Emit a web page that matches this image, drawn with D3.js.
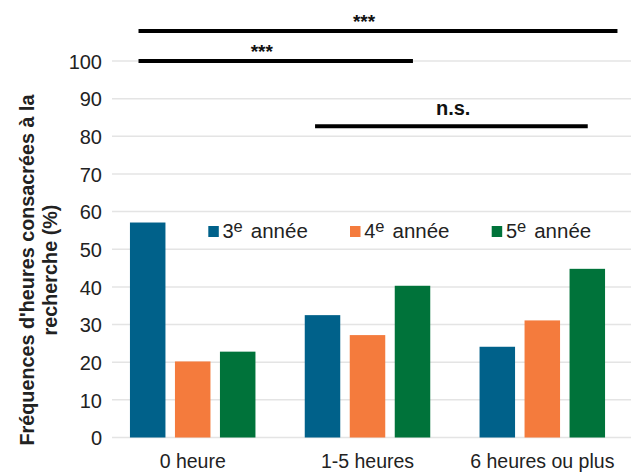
<!DOCTYPE html>
<html>
<head>
<meta charset="utf-8">
<script src="https://cdn.jsdelivr.net/npm/d3@7"></script>
<style>
  html, body { margin: 0; padding: 0; background: #fff; }
  svg { display: block; font-family: "Liberation Sans", Arial, Helvetica, sans-serif; }
</style>
</head>
<body>
<svg id="chart" width="636" height="472"></svg>
<script>
// ---- data ----
const categories = ["0 heure", "1-5 heures", "6 heures ou plus"];
const series = ["3e année", "4e année", "5e année"];
const seriesOrdinal = ["3", "4", "5"];
const values3e = [57.1, 32.5, 24.1];
const values4e = [20.2, 27.2, 31.1];
const values5e = [22.8, 40.3, 44.8];
const yTicks = [0, 10, 20, 30, 40, 50, 60, 70, 80, 90, 100];
const colors = ["#00618a", "#f47b3d", "#00733a"];
// significance brackets: from/to in group-index units, level in % units
const sigFrom = [-0.31, -0.31, 0.70];
const sigTo = [2.43, 1.26, 2.26];
const sigLevel = [108, 100, 82.7];
const sigLabel = ["***", "***", "n.s."];
const sigLabelPos = [0.98, 0.395, 1.49];
const yTitleLines = ["Fréquences d'heures consacrées à la", "recherche (%)"];

const svg = d3.select("#chart");

const y = d3.scaleLinear().domain([0, 100]).range([437.5, 61]);
const x = d3.scaleBand().domain(categories).range([105.3, 629.7]).paddingInner(0).paddingOuter(0);
const xInner = d3.scaleBand().domain(series).range([-62.75, 62.75]).paddingInner(0.211).paddingOuter(0);
const xIdx = d3.scaleLinear().domain([0, 2]).range([x(categories[0]) + x.bandwidth() / 2, x(categories[2]) + x.bandwidth() / 2]);

// gridlines
svg.append("g").selectAll("line").data(yTicks).join("line")
  .attr("x1", 112).attr("x2", 631)
  .attr("y1", d => y(d)).attr("y2", d => y(d))
  .attr("stroke", "#e4e4e4").attr("stroke-width", 1.5);

// y axis labels
const yAxis = d3.axisLeft(y).tickValues(yTicks).tickSize(0).tickPadding(0);
const gy = svg.append("g").attr("transform", "translate(102,0)").call(yAxis);
gy.select(".domain").remove();
gy.selectAll("text").attr("font-size", 20).attr("fill", "#222")
  .attr("font-family", "Liberation Sans").attr("dy", "0.36em");

// bars
const data = categories.map((c, i) => ({ cat: c, vals: [values3e[i], values4e[i], values5e[i]] }));
const groups = svg.append("g").selectAll("g").data(data).join("g")
  .attr("transform", d => `translate(${x(d.cat) + x.bandwidth() / 2},0)`);
groups.selectAll("rect").data(d => d.vals.map((v, j) => ({ s: series[j], v, j }))).join("rect")
  .attr("x", d => xInner(d.s))
  .attr("width", xInner.bandwidth())
  .attr("y", d => y(d.v))
  .attr("height", d => y(0) - y(d.v))
  .attr("fill", d => colors[d.j]);

// x axis labels
const xAxis = d3.axisBottom(x).tickSize(0).tickPadding(0);
const gx = svg.append("g").attr("transform", "translate(0,454)").call(xAxis);
gx.select(".domain").remove();
gx.selectAll("text").attr("font-size", 19.5).attr("fill", "#222")
  .attr("font-family", "Liberation Sans").attr("dy", "0.72em");

// y title
const yt = svg.append("text")
  .attr("transform", "translate(0,270) rotate(-90)")
  .attr("text-anchor", "middle")
  .attr("font-weight", "bold")
  .attr("font-size", 19.8)
  .attr("fill", "#222");
yt.selectAll("tspan").data(yTitleLines).join("tspan")
  .attr("x", 0)
  .attr("y", (d, i) => 34 + i * 22.5)
  .text(d => d);

// legend
const leg = svg.append("g").selectAll("g").data(series).join("g")
  .attr("transform", (d, i) => `translate(${208.3 + i * 141.7},226)`);
leg.append("rect").attr("width", 10.5).attr("height", 11).attr("fill", (d, i) => colors[i]);
const lt = leg.append("text").attr("y", 11.8).attr("font-size", 20).attr("fill", "#222");
lt.append("tspan").attr("x", 14.3).text((d, i) => seriesOrdinal[i]);
lt.append("tspan").attr("x", 25.3).attr("font-size", 16.5).attr("dy", -5.5).text("e");
lt.append("tspan").attr("x", 42.5).attr("dy", 5.5).attr("font-size", 20.5).text("année");

// significance brackets
svg.append("g").selectAll("line").data(sigLevel).join("line")
  .attr("x1", (d, i) => xIdx(sigFrom[i]))
  .attr("x2", (d, i) => xIdx(sigTo[i]))
  .attr("y1", d => y(d)).attr("y2", d => y(d))
  .attr("stroke", "#000").attr("stroke-width", 4);

svg.append("g").selectAll("text").data(sigLabel).join("text")
  .attr("x", (d, i) => xIdx(sigLabelPos[i]))
  .attr("y", (d, i) => d === "n.s." ? y(sigLevel[i]) - 11 : y(sigLevel[i]) - 3)
  .attr("text-anchor", "middle")
  .attr("font-weight", "bold")
  .attr("font-size", (d) => d === "n.s." ? 20 : 19)
  .attr("fill", "#111")
  .text(d => d);
</script>
</body>
</html>
